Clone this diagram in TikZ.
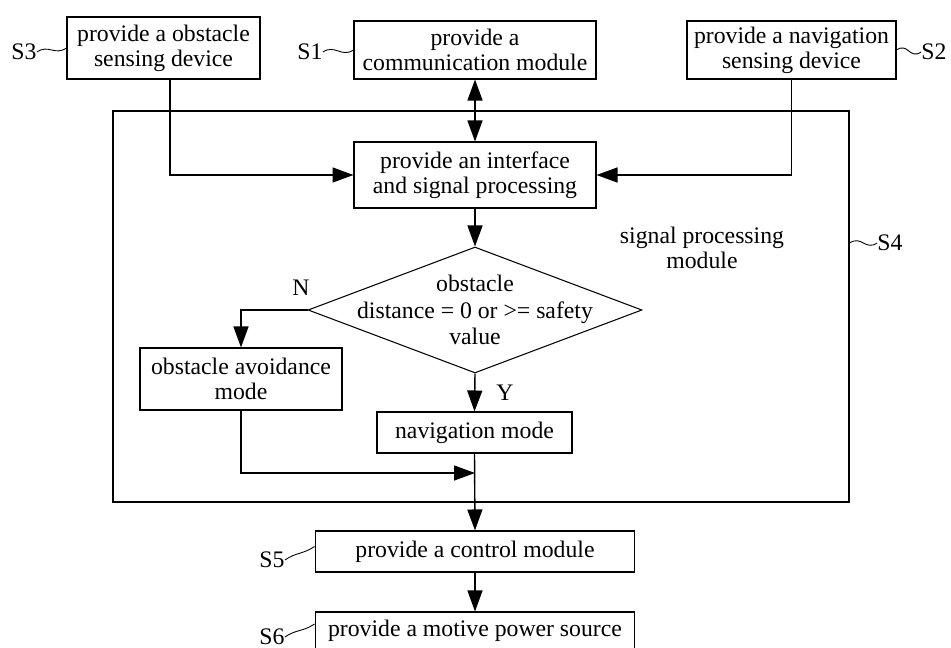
\documentclass[tikz,border=0pt]{standalone}
\usepackage{fontspec}
\setmainfont{Liberation Serif}
\usetikzlibrary{arrows.meta,positioning,shapes.geometric}

\begin{document}
\begin{tikzpicture}[
    x=0.02cm, y=-0.02cm,
    font=\fontsize{13.5}{14.2}\selectfont,
    stepbox/.style={draw,line width=0.6pt,align=center,inner sep=0pt},
    decision/.style={diamond,draw,line width=0.6pt,inner sep=0pt,minimum width=6.68cm,minimum height=2.52cm},
    arrow/.style={-{Triangle[length=4.2mm,width=3mm]},line width=0.8pt},
    twoway/.style={{Triangle[length=4.2mm,width=3mm]}-{Triangle[length=4.2mm,width=3mm]},line width=0.8pt},
    lead/.style={line width=0.5pt},
    tag/.style={inner sep=0pt}
  ]
    \useasboundingbox (0,0) rectangle (951,648);

    % signal processing module
    \node[draw,line width=0.8pt,minimum width=14.72cm,minimum height=7.82cm] (spm) at (481,306.5) {};
    \node[align=center] (spmtext) at (702,248) {signal processing\\module};

    % input steps
    \node[stepbox,minimum width=3.86cm,minimum height=1.24cm] (s3) at (163.5,48) {provide a obstacle\\sensing device};
    \node[stepbox,minimum width=4.84cm,minimum height=1.16cm] (s1) at (475,50) {provide a\\communication module};
    \node[stepbox,minimum width=4.18cm,minimum height=1.16cm] (s2) at (791.5,50) {provide a navigation\\sensing device};
    \node[stepbox,minimum width=4.84cm,minimum height=1.32cm] (iface) at (475,175) {provide an interface\\and signal processing};
    \node[decision] (dec) at (475,310) {};
    \node[align=center,font=\fontsize{13.5}{15}\selectfont] (dectext) at (dec.center) {obstacle\\distance = 0 or >= safety\\value};
    \node[stepbox,minimum width=4.04cm,minimum height=1.24cm] (avoid) at (241,379) {obstacle avoidance\\mode};
    \node[stepbox,minimum width=3.9cm,minimum height=0.82cm] (nav) at (474.5,432.5) {navigation mode};
    \node[stepbox,minimum width=6.4cm,minimum height=0.82cm] (ctrl) at (475,551.5) {provide a control module};
    \node[stepbox,minimum width=6.4cm,minimum height=0.76cm] (motive) at (475,631) {provide a motive power source};

    % step numbers
    \node[tag] (s3lbl) at (24,52) {S3};
    \node[tag] (s1lbl) at (310,52) {S1};
    \node[tag] (s2lbl) at (934,52) {S2};
    \node[tag] (s4lbl) at (890,243) {S4};
    \node[tag] (s5lbl) at (272,560) {S5};
    \node[tag] (s6lbl) at (272,637) {S6};
    \node[tag] (nlbl) at (301,288) {N};
    \node[tag] (ylbl) at (505,393) {Y};

    \draw[lead] (s3lbl.east) .. controls +(12,-8) and +(-12,8) .. (s3.west);
    \draw[lead] (s1lbl.east) .. controls +(12,-8) and +(-12,8) .. (s1.west);
    \draw[lead] (s2.east) .. controls +(12,-8) and +(-12,8) .. (s2lbl.west);
    \draw[lead] (spm.east |- s4lbl) .. controls +(12,-8) and +(-12,8) .. (s4lbl.west);
    \draw[lead] (s5lbl.east) .. controls +(12,-8) and +(-12,8) .. ([yshift=1mm]ctrl.west);
    \draw[lead] (s6lbl.east) .. controls +(12,-8) and +(-12,8) .. ([yshift=1.4mm]motive.west);

    % connectors
    \coordinate (join) at (475,473);
    \draw[arrow] ([xshift=0.13cm]s3.south) |- (iface.west);
    \draw[arrow] (s2.south) |- (iface.east);
    \draw[twoway] (s1.south) -- (iface.north);
    \draw[arrow] (iface.south) -- (dec.north);
    \draw[arrow] (dec.west) -| (avoid.north);
    \draw[arrow] (dec.south) -- (nav.north);
    \draw[arrow] (avoid.south) |- (join);
    \draw[arrow] (nav.south) -- (ctrl.north);
    \draw[arrow] (ctrl.south) -- (motive.north);
  \end{tikzpicture}
\end{document}
